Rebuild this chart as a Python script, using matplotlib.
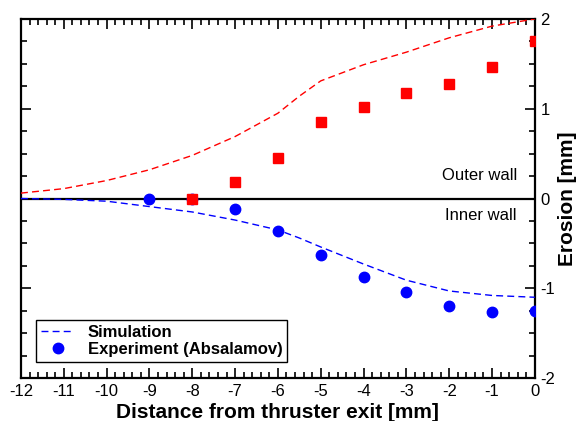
"""Wall erosion profile along the thruster channel: simulation vs experiment."""

import matplotlib
matplotlib.use("Agg")
import matplotlib.pyplot as plt
from matplotlib.ticker import MultipleLocator

plt.rcParams["font.family"] = ["Liberation Sans", "DejaVu Sans"]
plt.rcParams["axes.unicode_minus"] = False

# Simulation curves (outer wall positive, inner wall negative)
sim_x = [-12, -11, -10, -9, -8, -7, -6, -5.5, -5, -4, -3, -2, -1, 0]
sim_outer = [0.06, 0.11, 0.20, 0.32, 0.48, 0.69, 0.95, 1.14, 1.31, 1.49, 1.63, 1.79, 1.92, 2.0]
sim_inner = [0.0, -0.01, -0.03, -0.09, -0.15, -0.24, -0.35, -0.44, -0.54, -0.73, -0.91, -1.03, -1.08, -1.10]

# Experiment (Absalamov)
exp_outer_x = [-8, -7, -6, -5, -4, -3, -2, -1, 0]
exp_outer = [0.0, 0.18, 0.45, 0.85, 1.02, 1.17, 1.28, 1.47, 1.75]
exp_inner_x = [-9, -8, -7, -6, -5, -4, -3, -2, -1, 0]
exp_inner = [0.0, 0.0, -0.12, -0.36, -0.63, -0.87, -1.04, -1.20, -1.26, -1.25]

RED = "#ff0000"
BLUE = "#0000ff"

fig = plt.figure(figsize=(5.82, 4.21), dpi=100)
ax = fig.add_axes([0.036, 0.102, 0.883, 0.853])

ax.axhline(0, color="black", linewidth=1.6, zorder=2)

ax.plot(sim_x, sim_outer, color=RED, linewidth=1.0, dashes=(5, 3), zorder=3)
ax.plot(sim_x, sim_inner, color=BLUE, linewidth=1.0, dashes=(5, 3), zorder=3,
        label="Simulation")
ax.plot(exp_inner_x, exp_inner, "o", color=BLUE, markersize=7.5, zorder=4,
        label="Experiment (Absalamov)")
ax.plot(exp_outer_x, exp_outer, "s", color=RED, markersize=7, zorder=5)

ax.text(-0.42, 0.26, "Outer wall", ha="right", va="center", fontsize=12)
ax.text(-0.42, -0.19, "Inner wall", ha="right", va="center", fontsize=12)

ax.set_xlim(-12, 0)
ax.set_ylim(-2, 2)
ax.xaxis.set_major_locator(MultipleLocator(1))
ax.xaxis.set_minor_locator(MultipleLocator(0.2))
ax.yaxis.set_major_locator(MultipleLocator(1))
ax.yaxis.set_minor_locator(MultipleLocator(0.25))

ax.tick_params(which="both", direction="in", top=True, bottom=True,
               left=True, right=True, labelleft=False, labelright=True,
               labelsize=12, width=1.2)
ax.tick_params(which="major", length=7)
ax.tick_params(which="minor", length=4)
ax.tick_params(axis="x", pad=4)
ax.tick_params(axis="y", pad=4)
for s in ax.spines.values():
    s.set_linewidth(1.6)

ax.yaxis.set_label_position("right")
ax.set_ylabel("Erosion [mm]", fontsize=15, fontweight="bold", labelpad=2)
ax.set_xlabel("Distance from thruster exit [mm]", fontsize=15,
              fontweight="bold", labelpad=3)

leg = ax.legend(loc="lower left", bbox_to_anchor=(0.029, 0.045),
                borderaxespad=0, fancybox=False, framealpha=1,
                edgecolor="black", handlelength=2.0, handletextpad=0.8,
                borderpad=0.3, labelspacing=0.1,
                prop={"size": 12, "weight": "bold"})
leg.get_frame().set_linewidth(1.0)

fig.savefig("out.png", dpi=100)
